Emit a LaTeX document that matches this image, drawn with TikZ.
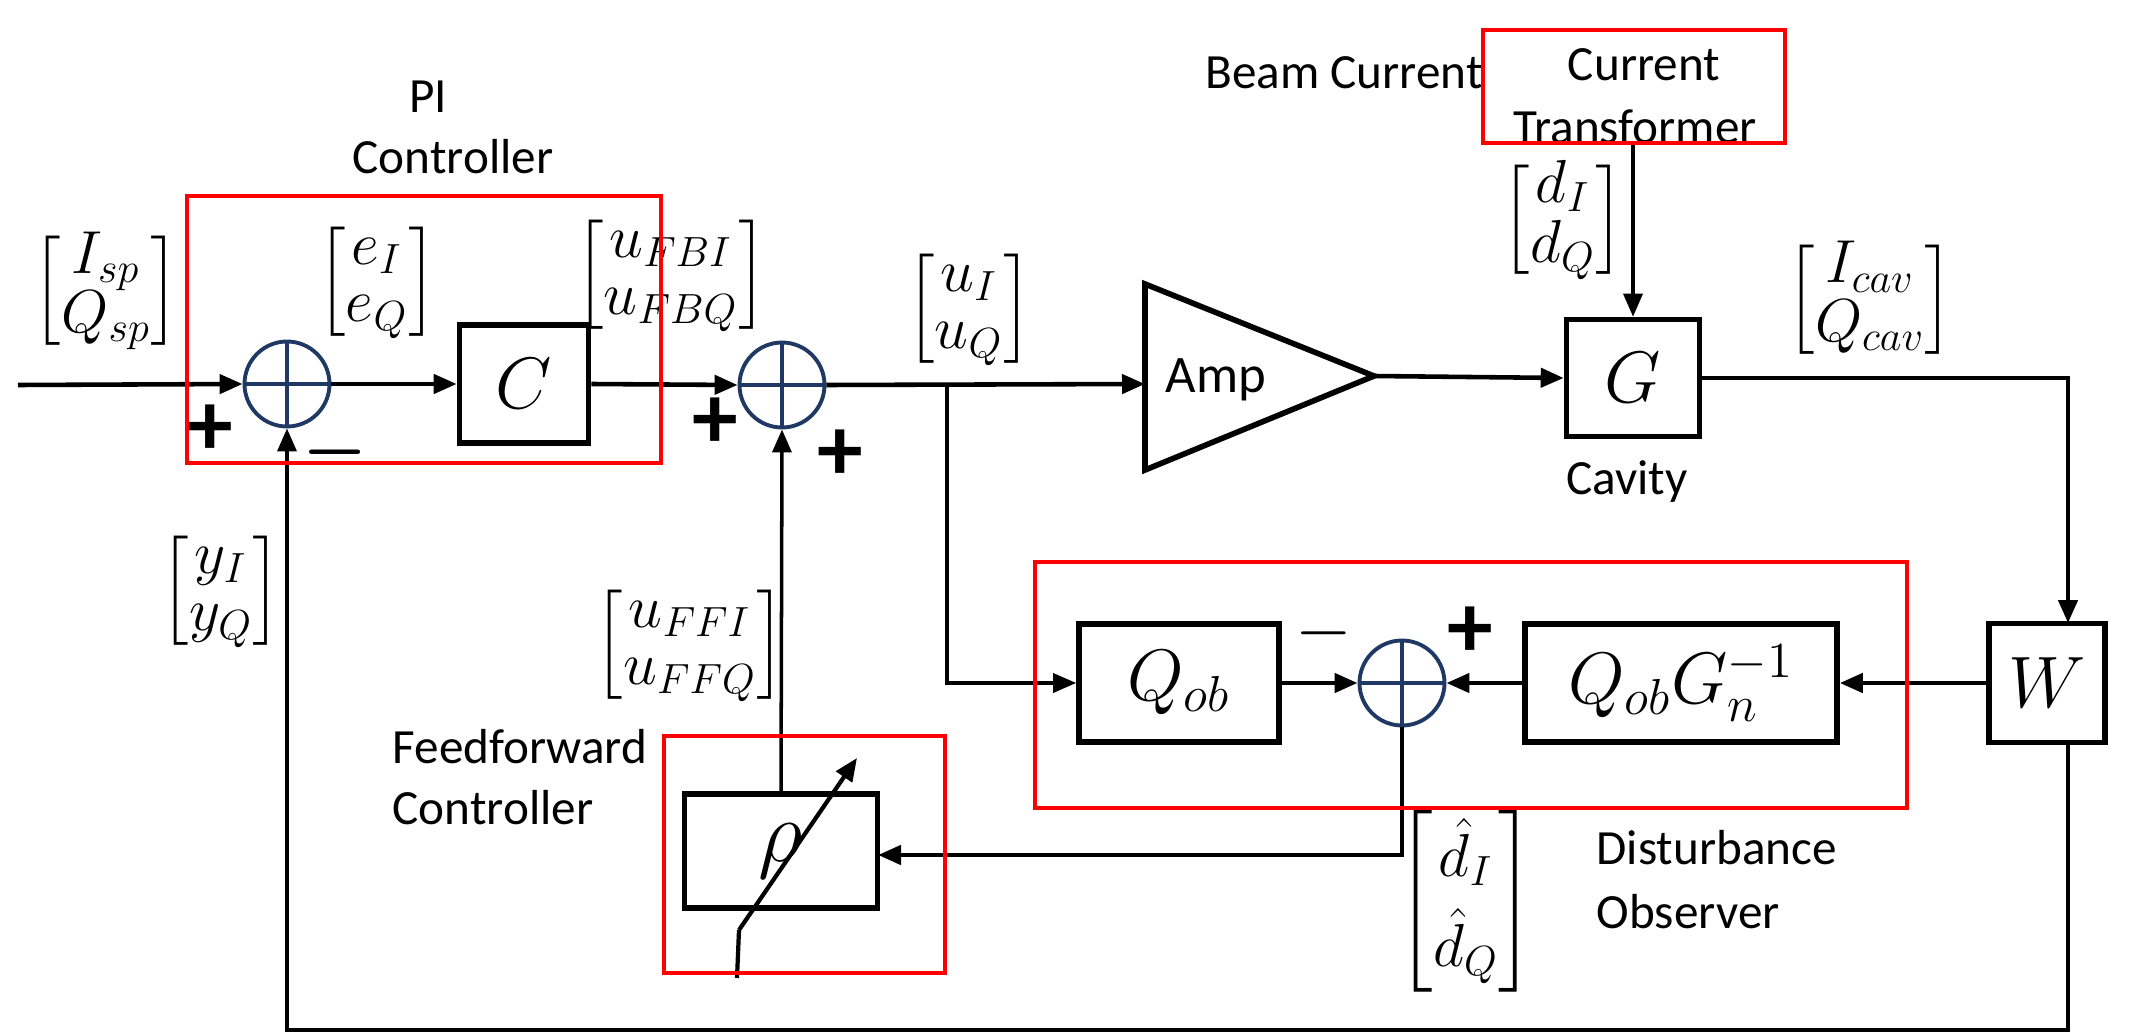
\documentclass[tikz,border=0pt]{standalone}
\usepackage{amsmath}
\usepackage{fontspec}
\setmainfont{Carlito}
\usetikzlibrary{arrows.meta,shapes.geometric}
\definecolor{sumblue}{RGB}{32,56,100}
\definecolor{frame}{RGB}{255,0,0}
\begin{document}
\begin{tikzpicture}[x=0.1mm,y=-0.1mm,
  line/.style={line width=1.3pt},
  wire/.style={line width=1.3pt,-{Triangle[length=2.3mm,width=1.9mm]}},
  thinwire/.style={line width=1pt,-{Triangle[length=2.3mm,width=1.9mm]}},
  blk/.style={draw,line width=1.6pt,inner sep=0pt,font=\fontsize{22}{22}\selectfont},
  sumnode/.style={circle,draw=sumblue,line width=1.1pt,minimum size=8.5mm,inner sep=0pt},
  redbox/.style={draw=frame,line width=0.9pt},
  lbl/.style={font=\fontsize{14}{16}\selectfont,inner sep=0pt},
  mlbl/.style={font=\fontsize{18}{18}\selectfont\renewcommand{\arraystretch}{0.9},inner sep=0pt},
  sgn/.style={font=\fontsize{26}{26}\selectfont\bfseries,inner sep=0pt},
  msgn/.style={font=\fontsize{22}{22}\selectfont\boldmath,inner sep=0pt}
]
\useasboundingbox (0,0) rectangle (2143,1033);
\fill[white] (0,0) rectangle (2143,1033);

% summing junctions
\node[sumnode] (s1) at (287,384) {};
\node[sumnode] (s2) at (782,385) {};
\node[sumnode] (s3) at (1402,683) {};
\foreach \s in {s1,s2,s3}{
  \draw[sumblue,line width=1.1pt] (\s.north) -- (\s.south) (\s.west) -- (\s.east);
}

% blocks
\node[blk,minimum width=12.9mm,minimum height=11.8mm] (C) at (524,384) {$C$};
\node[blk,minimum width=13.3mm,minimum height=11.7mm] (G) at (1633,378) {$G$};
\node[blk,minimum width=20mm,minimum height=11.8mm] (Qob) at (1179,683) {$Q_{ob}$};
\node[blk,minimum width=31.2mm,minimum height=11.8mm] (QG) at (1681,683) {$Q_{ob}G_n^{-1}$};
\node[blk,minimum width=11.6mm,minimum height=11.9mm] (W) at (2047,683) {$W$};
\node[blk,minimum width=19.3mm,minimum height=11.4mm,font=\fontsize{26}{26}\selectfont] (rho) at (781,851) {$\rho$};

% amplifier
\coordinate (ampTop) at (1145,284);
\coordinate (ampBot) at (1145,470);
\coordinate (ampTip) at (1374,376);
\coordinate (ampIn) at (1145,384);
\draw[line width=1.6pt,line join=miter] (ampTop) -- (ampTip) -- (ampBot) -- cycle;
\node[font=\fontsize{15}{15}\selectfont] (amplbl) at (1216,380) {Amp};

% coordinates for connectors
\coordinate (in) at (18,385);
\coordinate (j1) at (947,385);
\coordinate (j1b) at (947,683);
\coordinate (gout) at (2068,378);
\coordinate (wtop) at (2068,623);
\coordinate (wbot) at (2068,742);
\coordinate (bR) at (2068,1030);
\coordinate (bL) at (287,1030);
\coordinate (s3d) at (1402,855);
\coordinate (rhoIn) at (878,855);
\coordinate (ctout) at (1633,143);
\coordinate (va1) at (737,978);
\coordinate (va2) at (739,930);
\coordinate (va3) at (857,758);

% connectors
\draw[wire] (in) -- (s1.west);
\draw[wire] (s1.east) -- (C.west);
\draw[wire] (C.east) -- (s2.west);
\draw[wire] (s2.east) -- (ampIn);
\draw[wire] (ampTip) -- (G.west);
\draw[thinwire] (ctout) -- (G.north);
\draw[wire] (G.east) -- (gout) -- (wtop);
\draw[wire] (W.west |- 0,683) -- (QG.east);
\draw[wire] (QG.west) -- (s3.east);
\draw[wire] (Qob.east) -- (s3.west);
\draw[thinwire] (j1) -- (j1b) -- (Qob.west);
\draw[wire] (s3.south) -- (s3d) -- (rhoIn);
\draw[thinwire] (rho.north) -- (s2.south);
\draw[thinwire] (wbot) -- (bR) -- (bL) -- (s1.south);
\draw[line,line width=1.2pt] (va1) -- (va2);
\draw[wire,line width=1.2pt] (va2) -- (va3);

% signs
\node[sgn] (p1) at (210,430) {+};
\node[msgn] (m1) at (335,452) {$-$};
\node[sgn] (p2) at (715,423) {+};
\node[sgn] (p3) at (840,455) {+};
\node[msgn,font=\fontsize{20}{20}\selectfont] (m3) at (1324,633) {$-$};
\node[sgn] (p4) at (1470,632) {+};

% signal labels
\node[mlbl] (xsp) at (106,291) {$\begin{bmatrix} I_{sp}\\ Q_{sp}\end{bmatrix}$};
\node[mlbl] (xe) at (377,282) {$\begin{bmatrix} e_I\\ e_Q\end{bmatrix}$};
\node[mlbl] (xfb) at (671,275) {$\begin{bmatrix} u_{FBI}\\ u_{FBQ}\end{bmatrix}$};
\node[mlbl] (xu) at (969,309) {$\begin{bmatrix} u_I\\ u_Q\end{bmatrix}$};
\node[mlbl] (xd) at (1563,220) {$\begin{bmatrix} d_I\\ d_Q\end{bmatrix}$};
\node[mlbl] (xcav) at (1870,300) {$\begin{bmatrix} I_{cav}\\ Q_{cav}\end{bmatrix}$};
\node[mlbl] (xy) at (221,591) {$\begin{bmatrix} y_I\\ y_Q\end{bmatrix}$};
\node[mlbl] (xff) at (690,645) {$\begin{bmatrix} u_{FFI}\\ u_{FFQ}\end{bmatrix}$};
\node[mlbl] (xdh) at (1466,901) {$\begin{bmatrix} \hat{d}_I\\[4pt] \hat{d}_Q\end{bmatrix}$};

% text labels
\node[lbl] (tpi) at (428,97) {PI};
\node[lbl] (tpic) at (453,157) {Controller};
\node[lbl] (tbeam) at (1344,73) {Beam Current};
\node[lbl] (tct1) at (1644,65) {Current};
\node[lbl] (tct2) at (1635,127) {Transformer};
\node[lbl] (tcav) at (1627,482) {Cavity};
\node[lbl,anchor=west] (tff1) at (392,747) {Feedforward};
\node[lbl,anchor=west] (tff2) at (392,808) {Controller};
\node[lbl,anchor=west] (tdo1) at (1596,848) {Disturbance};
\node[lbl,anchor=west] (tdo2) at (1596,912) {Observer};

% red frames
\draw[redbox] (187,196) rectangle (661,463);
\draw[redbox] (1483,30) rectangle (1785,143);
\draw[redbox] (1035,562) rectangle (1907,808);
\draw[redbox] (664,736) rectangle (945,973);
\end{tikzpicture}
\end{document}
